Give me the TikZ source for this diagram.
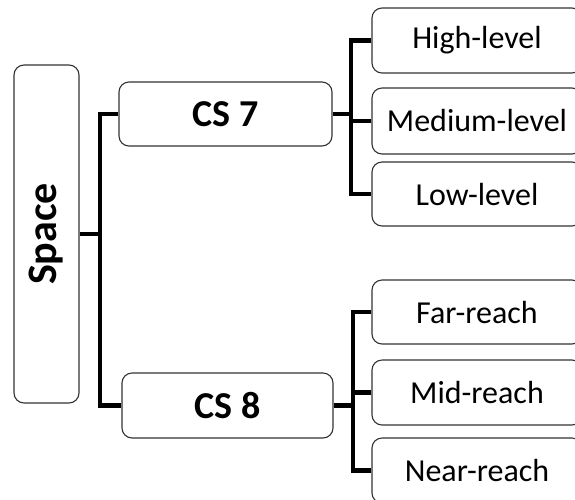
\documentclass[tikz,border=0pt]{standalone}
\usepackage{fontspec}
\setmainfont{Carlito}
\begin{document}
\begin{tikzpicture}[x=1pt,y=-1pt,
  box/.style={draw=black!80,line width=1.1pt,rounded corners=10pt,fill=white,inner sep=0pt,align=center},
  big/.style={box,font=\fontsize{38}{42}\selectfont\bfseries},
  leaf/.style={box,font=\fontsize{32}{36}\selectfont,minimum width=210pt,minimum height=65pt},
  conn/.style={line width=4.5pt,line join=miter,black}]
\useasboundingbox (0,0) rectangle (575,499);
\clip (0,0) rectangle (575,499);
\node[big,minimum width=65pt,minimum height=338pt] (space) at (46.5,234) {\rotatebox{90}{\fontsize{42}{46}\selectfont Space}};
\node[big,minimum width=213pt,minimum height=64pt] (cs7) at (225.5,114) {CS 7};
\node[big,minimum width=211pt,minimum height=65pt] (cs8) at (227.5,405.5) {CS 8};
\node[leaf] (high) at (477,40.5) {High-level};
\node[leaf,minimum height=66pt] (med) at (477,121) {Medium-level};
\node[leaf,minimum height=64pt] (low) at (477,194) {Low-level};
\node[leaf,minimum height=64pt] (far) at (477,312) {Far-reach};
\node[leaf] (mid) at (477,392.5) {Mid-reach};
\node[leaf] (near) at (477,470.5) {Near-reach};
\coordinate (j1) at (100,0);
\coordinate (j2) at (351,0);
\coordinate (j3) at (353,0);
\draw[conn] (space.east) -- (space.east -| j1);
\draw[conn] (cs7.west) -| (j1 |- cs8.west) -- (cs8.west);
\draw[conn] (cs7.east) -- (cs7.east -| j2);
\draw[conn] (high.west) -| (j2 |- low.west) -- (low.west);
\draw[conn] (med.west) -- (med.west -| j2);
\draw[conn] (cs8.east) -- (cs8.east -| j3);
\draw[conn] (far.west) -| (j3 |- near.west) -- (near.west);
\draw[conn] (mid.west) -- (mid.west -| j3);
\end{tikzpicture}
\end{document}
